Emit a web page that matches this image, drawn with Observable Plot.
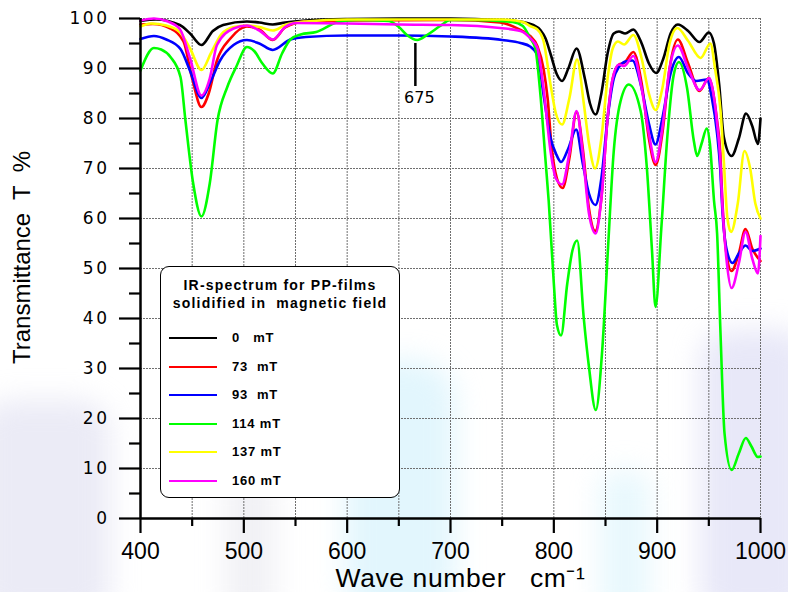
<!DOCTYPE html>
<html><head><meta charset="utf-8">
<script src="https://cdn.jsdelivr.net/npm/d3@7"></script>
<script src="https://cdn.jsdelivr.net/npm/@observablehq/plot@0.6"></script>
<style>
body{margin:0;background:#fff;}
#wrap{position:relative;width:788px;height:592px;overflow:hidden;font-family:"Liberation Sans",Arial,sans-serif;}
#wrap svg{position:absolute;left:0;top:0;}
.wm{position:absolute;filter:blur(14px);}
g[aria-label="y-axis tick label"]{letter-spacing:2.5px;}
.xtitle{letter-spacing:0.6px;}
#legend{position:absolute;left:160px;top:266px;width:240px;height:232px;border:1.5px solid #000;border-radius:9px;background:#fff;box-sizing:border-box;font-weight:bold;color:#000;}
#legend .ttl{position:absolute;left:0;right:0;top:9px;text-align:center;font-size:14px;line-height:18px;letter-spacing:1.2px;}
#legend .row{position:absolute;left:0;height:20px;}
#legend .sw{position:absolute;left:8px;width:48px;height:2px;}
#legend .lb{position:absolute;left:71px;font-size:13px;letter-spacing:0.8px;white-space:pre;line-height:20px;top:-10px;}
</style></head><body><div id="wrap">
<div class="wm" style="left:345px;top:360px;width:110px;height:260px;background:rgba(190,235,250,0.45);border-radius:40px;"></div>
<div class="wm" style="left:600px;top:470px;width:50px;height:150px;background:rgba(190,235,250,0.35);border-radius:20px;"></div>
<div class="wm" style="left:700px;top:330px;width:110px;height:290px;background:rgba(205,205,240,0.45);border-radius:30px;"></div>
<div class="wm" style="left:-20px;top:400px;width:130px;height:220px;background:rgba(210,210,235,0.45);border-radius:30px;"></div>
<div class="wm" style="left:225px;top:470px;width:50px;height:150px;background:rgba(215,215,225,0.35);border-radius:20px;"></div>
</div>
<script>
const seriesNames = ["0   mT","73  mT","93  mT","114 mT","137 mT","160 mT"];
const seriesColors = ["#000000","#ff0000","#0000ff","#00ff00","#ffff00","#ff00ff"];

const wn0 = [400,415,438,448,459,470,480,503,515,528,540,560,600,650,700,748,770,780,787,792,797,803,808,814,822,830,835,840.5,846,852,858,863,869,877,885,892,899,906,913,920,930,941,950,955,960,964.5,972,979,986,992,997.5,1000];
const t0 = [99.5,99.8,98.7,97,94.7,97.5,98.7,99.4,99.2,98.8,99.2,99.6,99.9,100,100,99.7,99.3,98.7,97.7,96,92.8,88.8,87.5,90,94,88,83,80.8,85,93,97,97.4,97,97.8,95,91,89.1,92,97,98.8,97.5,95.3,97.2,95,86.8,76.3,72.5,76,81,78.5,74.9,80];

const wn1 = [400,412,429,441.6,450,459,466,474,487,503,515,528,540,560,600,700,748,767.7,777,784,790,794,798,803,808.5,815,822,828,834,840,846,852,857,863,868,877,885,892,898.5,905,912,920,930,941,950,953,958,961,963,967,972,979,985.5,992,1000];
const t1 = [98.8,98.9,98,95.4,88,82.3,85,91.6,96,98.4,97.8,95.7,98.2,99.4,99.6,99.7,99.2,97.7,96.5,94.5,90,84,74,68,66.1,72,81.3,74,62,57.5,64,80,88,90.8,91.1,93.3,87,76,70.7,77,90,95.8,91,85.5,88.1,86.5,79.5,73.5,64,53,49.5,53,57.9,54,51.5];

const wn2 = [400,413,425,438.7,448,459,468,477,490,503,515,528,545,560,600,650,700,750,767.7,777,784,790,796.8,802,807,814,821.6,828,834,840.3,846,852,858,863,869.4,876,885,892,898.4,905,913,921,930,938,948,953,958,961,963,967,973,979,985.5,992,1000];
const t2 = [95.9,96.5,95.8,93.9,89.5,84.1,87.5,91.6,94.7,95.7,95,93.7,95.8,96.3,96.6,96.6,96.4,95.7,95.1,94.4,92.8,84.8,76.1,73,71.3,74,77.8,71,65,62.7,68,80,88,90.3,91.4,91.6,86,79,74.8,80,89,92.3,89,87.5,87.8,84,77,70,62,54,51.1,53,54.6,53.5,54];

const wn3 = [400,413,420,429,438.7,443.5,451,459,467,474.5,484,493,503,510,518,528,537,545,555,570,590,610,640,650,659,667.7,678,690,700,720,760,770,777,782,787,792,795,800,803,807,813,818,822.6,829,834,840.6,846.8,852.3,858,864.5,872.6,884,890,895,898.4,904,910,916,921,929,935.5,938.7,943,948,951,955,958,961.3,965.2,972,979,985.8,991,997.4,1000];
const t3 = [89.6,94.1,93.8,92.3,88.3,79.6,67,60.4,67,79.6,86.3,90.5,94.3,93.5,91,89,93,95.8,96.8,97.3,99.2,99.7,99.5,98.3,96.5,95.7,96.8,98.5,99.7,99.7,99.3,98.5,96.1,94.1,84.8,71.5,63.6,47,38.7,36.6,47,53.6,55.6,40,30.3,21.7,33.6,53.6,73.5,83.4,86.8,81.5,70.2,53.6,42.3,58,76.8,88.7,91.3,86,75.5,72.5,75,78,75,63.6,57,37,17,9.7,13,16.1,14.5,12.3,12.4];

const wn4 = [400,410,425,438,448,459,468,478,490,503,515,528,540,560,600,700,750,770,777,784,790,796.8,802,808,815,822.5,829,834,840,846,852,857,862,868,877,885,892,898.5,905,912,919.5,930,942,951.5,956,961.3,964.5,968,971.5,978,984.5,990,995,1000];
const t4 = [98.4,99,98.6,97.3,94,89.7,93,96.8,98.3,98.6,98.3,97.6,98.7,99.4,99.8,99.8,99.8,99.3,98.5,97.8,95.5,86.8,81,78.8,84,91.8,83,75,70,76,88,94,95.4,94.8,96.7,92,85,81.7,86,95,98.1,95.5,92.1,95,90,81.6,71.5,60,57.3,63,73.5,70,63,60];

const wn5 = [400,413,425,438,448,459,467,474,490,503,515,528,540,551,600,650,700,748,767.7,777,784,790,796.8,802,808,815,822,828,834,840.5,846,852,857,863,868,877,885,892,898.5,905,912,920,930,941,950.5,953,958,961,963,967,972,979,985.5,992,997.5,1000];
const t5 = [99.6,100,99.5,97.9,92,84.6,88,94.7,98,98.6,97.6,95.8,98.3,99.1,99,98.8,98.7,98.1,97.5,96.1,94.1,86.1,73.5,68,66.8,73,81.5,73,61,57,64,80,88,90.8,90.5,92.5,86,77,71.3,78,90,94.6,90,85.7,88.1,86.5,79,72,63,52,46.1,51,57.3,52,49,56.5];

const xTicks = [400,500,600,700,800,900,1000];
const xMinorTicks = [450,550,650,750,850,950];
const yTicks = [0,10,20,30,40,50,60,70,80,90,100];
const yMinorTicks = [5,15,25,35,45,55,65,75,85,95];
const xGrid = [450,500,550,600,650,700,750,800,850,900,950,1000];
const yGrid = [10,20,30,40,50,60,70,80,90,100];

const annotWn = [666];
const annotTop = [95];
const annotBottom = [86.4];
const annotLabel = ["675"];

const xTitle = "Wave number   cm\u207B\u00B9";
const yTitle = "Transmittance  T  %";
const legendTitle = ["IR-spectrum for PP-films", "solidified in\u00A0 magnetic field"];

const wnAll = [wn0, wn1, wn2, wn3, wn4, wn5];
const tAll = [t0, t1, t2, t3, t4, t5];
const data = [];
wnAll.forEach((wn, i) => wn.forEach((w, j) => data.push({series: seriesNames[i], wn: w, t: tAll[i][j]})));
const annot = annotWn.map((w, i) => ({wn: w, top: annotTop[i], bottom: annotBottom[i], label: annotLabel[i]}));

const plot = Plot.plot({
  width: 788, height: 592,
  marginLeft: 140, marginRight: 28, marginTop: 18, marginBottom: 74,
  x: {domain: [400, 1000], label: null},
  y: {domain: [0, 100], label: null},
  color: {domain: seriesNames, range: seriesColors},
  style: {fontFamily: "'Liberation Sans', Arial, sans-serif", background: "transparent", overflow: "visible"},
  marks: [
    Plot.ruleX(xGrid, {stroke: "#6f6f6f", strokeWidth: 1, strokeDasharray: "2,1"}),
    Plot.ruleY(yGrid, {stroke: "#6f6f6f", strokeWidth: 1, strokeDasharray: "2,1"}),
    Plot.line(data, {x: "wn", y: "t", z: "series", stroke: "series", strokeWidth: 2.6, curve: "monotone-x"}),
    Plot.ruleX(annot, {x: "wn", y1: "top", y2: "bottom", stroke: "#000", strokeWidth: 2.5}),
    Plot.text(annot, {x: "wn", y: "bottom", text: "label", dx: 4, dy: 11, fontSize: 16, fontFamily: "'DejaVu Sans', sans-serif", fill: "#000"}),
    Plot.ruleX([400], {stroke: "#000", strokeWidth: 2.5}),
    Plot.ruleY([0], {stroke: "#000", strokeWidth: 2.5}),
    Plot.axisY(yTicks, {label: null, tickSize: 21, tickPadding: 10, strokeWidth: 2.2, stroke: "#000", fill: "#000", fontSize: 17, fontFamily: "'DejaVu Sans', sans-serif", tickFormat: d => String(d)}),
    Plot.axisY(yMinorTicks, {label: null, tickSize: 11, strokeWidth: 2.2, stroke: "#000", tickFormat: () => ""}),
    Plot.axisX(xTicks, {label: null, tickSize: 15, tickPadding: 9, strokeWidth: 2.2, stroke: "#000", fill: "#000", fontSize: 23, tickFormat: d => String(d)}),
    Plot.axisX(xMinorTicks, {label: null, tickSize: 8, strokeWidth: 2.2, stroke: "#000", tickFormat: () => ""}),
    Plot.text([xTitle], {frameAnchor: "bottom", dx: 10, dy: 60, fontSize: 26.5, fill: "#000", lineAnchor: "middle", className: "xtitle"}),
    Plot.text([yTitle], {frameAnchor: "left", rotate: -90, dx: -118, dy: -11, fontSize: 24, fill: "#000", textAnchor: "middle", lineAnchor: "middle"})
  ]
});

const wrap = document.getElementById("wrap");
wrap.appendChild(plot);

const legend = document.createElement("div");
legend.id = "legend";
const ttl = document.createElement("div");
ttl.className = "ttl";
ttl.innerHTML = legendTitle.join("<br>");
legend.appendChild(ttl);
seriesNames.forEach((name, i) => {
  const row = document.createElement("div");
  row.className = "row";
  row.style.top = (71 + i * 28.6) + "px";
  const sw = document.createElement("div");
  sw.className = "sw";
  sw.style.background = seriesColors[i];
  sw.style.top = "-1px";
  const lb = document.createElement("div");
  lb.className = "lb";
  lb.textContent = name;
  row.appendChild(sw);
  row.appendChild(lb);
  legend.appendChild(row);
});
wrap.appendChild(legend);
</script></body></html>
